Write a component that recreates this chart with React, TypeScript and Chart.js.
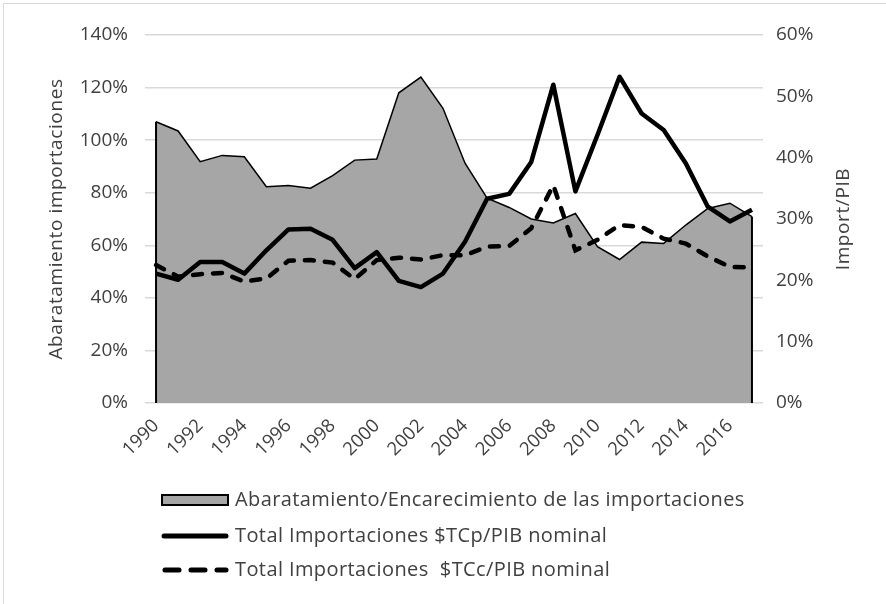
import React, { useEffect, useRef } from 'react';
import { Chart, registerables } from 'chart.js';

Chart.register(...registerables);

const years = ['1990', '1991', '1992', '1993', '1994', '1995', '1996', '1997', '1998', '1999', '2000', '2001', '2002', '2003', '2004', '2005', '2006', '2007', '2008', '2009', '2010', '2011', '2012', '2013', '2014', '2015', '2016', '2017'];
const abaratamiento = [107.0, 103.5, 91.8, 94.2, 93.7, 82.3, 82.7, 81.7, 86.5, 92.4, 92.8, 118.0, 124.0, 112.1, 91.2, 77.9, 74.4, 70.0, 68.5, 72.1, 59.5, 54.6, 61.2, 60.7, 67.7, 74.0, 76.0, 70.9];
const importTCp = [21.1, 20.1, 23.0, 23.0, 21.1, 24.9, 28.3, 28.4, 26.6, 22.0, 24.6, 19.9, 18.9, 21.1, 26.3, 33.3, 34.1, 39.3, 51.9, 34.5, 43.7, 53.2, 47.2, 44.5, 39.1, 32.0, 29.6, 31.5];
const importTCc = [22.5, 20.6, 21.0, 21.2, 19.8, 20.3, 23.2, 23.3, 22.9, 20.2, 23.3, 23.7, 23.4, 24.1, 24.1, 25.5, 25.6, 28.5, 35.5, 24.9, 26.6, 29.0, 28.7, 26.8, 26.0, 23.9, 22.2, 22.1];
const seriesNames = [
  'Abaratamiento/Encarecimiento de las importaciones',
  'Total Importaciones $TCp/PIB nominal',
  'Total Importaciones  $TCc/PIB nominal',
];
const leftTitle = 'Abaratamiento importaciones';
const rightTitle = 'Import/PIB';

const FONT = '"Open Sans"';
const TEXT = '#404040';
const GRAY = '#a6a6a6';

const areaEdges = {
  id: 'areaEdges',
  afterDatasetDraw(chart: any, args: any) {
    if (args.index !== 0) return;
    const meta = chart.getDatasetMeta(0);
    const pts = meta.data;
    if (!pts.length) return;
    const base = chart.scales.y.getPixelForValue(0);
    const ctx = chart.ctx;
    ctx.save();
    ctx.strokeStyle = '#000';
    ctx.lineWidth = 2;
    [pts[0], pts[pts.length - 1]].forEach((p: any) => {
      ctx.beginPath();
      ctx.moveTo(p.x, p.y);
      ctx.lineTo(p.x, base);
      ctx.stroke();
    });
    ctx.restore();
  },
};

const decorations = {
  id: 'decorations',
  afterDraw(chart: any) {
    const ctx = chart.ctx;
    const area = chart.chartArea;
    const midY = (area.top + area.bottom) / 2;
    ctx.save();
    ctx.fillStyle = TEXT;
    ctx.font = `19px ${FONT}`;
    try { (ctx as any).letterSpacing = '0.6px'; } catch (e) {}
    ctx.textAlign = 'center';
    ctx.textBaseline = 'middle';
    // left title
    ctx.save();
    ctx.translate(57, midY);
    ctx.rotate(-Math.PI / 2);
    ctx.fillText(leftTitle, 0, 0);
    ctx.restore();
    // right title
    ctx.save();
    ctx.translate(844, midY);
    ctx.rotate(-Math.PI / 2);
    ctx.fillText(rightTitle, 0, 0);
    ctx.restore();

    // legend
    const x0 = 162;
    const x1 = 228;
    const rows = [500, 536, 570];
    ctx.font = `20px ${FONT}`;
    try { (ctx as any).letterSpacing = '0.4px'; } catch (e) {}
    ctx.textAlign = 'left';
    ctx.textBaseline = 'middle';
    // area marker
    ctx.fillStyle = GRAY;
    ctx.fillRect(x0, rows[0] - 5, x1 - x0, 10);
    ctx.strokeStyle = '#000';
    ctx.lineWidth = 2;
    ctx.strokeRect(x0, rows[0] - 5, x1 - x0, 10);
    // solid marker
    ctx.lineWidth = 5;
    ctx.lineCap = 'round';
    ctx.beginPath();
    ctx.moveTo(x0 + 2, rows[1]);
    ctx.lineTo(x1 - 2, rows[1]);
    ctx.stroke();
    // dashed marker
    ctx.setLineDash([14, 12]);
    ctx.beginPath();
    ctx.moveTo(x0 + 3, rows[2]);
    ctx.lineTo(x1 - 2, rows[2]);
    ctx.stroke();
    ctx.setLineDash([]);
    ctx.fillStyle = TEXT;
    seriesNames.forEach((n, i) => {
      ctx.fillText(n, 235, rows[i]);
    });
    ctx.restore();
  },
};

export default function App() {
  const ref = useRef<HTMLCanvasElement | null>(null);
  useEffect(() => {
    document.body.style.margin = '0';
    const canvas = ref.current;
    if (!canvas) return;
    const chart = new Chart(canvas, {
      type: 'line',
      data: {
        labels: years,
        datasets: [
          {
            label: seriesNames[0],
            data: abaratamiento,
            yAxisID: 'y',
            borderColor: '#000',
            borderWidth: 1.5,
            backgroundColor: GRAY,
            fill: 'origin',
            pointRadius: 0,
            tension: 0,
            order: 3,
          },
          {
            label: seriesNames[1],
            data: importTCp,
            yAxisID: 'y1',
            borderColor: '#000',
            borderWidth: 4.5,
            backgroundColor: '#000',
            fill: false,
            pointRadius: 0,
            tension: 0,
            borderJoinStyle: 'round',
            order: 2,
          },
          {
            label: seriesNames[2],
            data: importTCc,
            yAxisID: 'y1',
            borderColor: '#000',
            borderWidth: 4.5,
            backgroundColor: '#000',
            borderDash: [9, 11],
            borderCapStyle: 'round',
            fill: false,
            pointRadius: 0,
            tension: 0,
            order: 1,
          },
        ],
      },
      options: {
        responsive: false,
        animation: false,
        layout: { padding: { left: 0, right: 0, top: 35, bottom: 0 } },
        plugins: {
          legend: { display: false },
          tooltip: { enabled: false },
          title: { display: false },
        },
        scales: {
          x: {
            type: 'category',
            offset: true,
            grid: { display: false, drawTicks: false },
            border: { display: false },
            ticks: {
              autoSkip: false,
              minRotation: 45,
              maxRotation: 45,
              padding: 12,
              color: TEXT,
              font: { family: FONT, size: 18.5 },
              callback: (_v: any, i: number) => (i % 2 === 0 ? years[i] : ''),
            },
            afterFit: (s: any) => {
              s.height = 201;
            },
          },
          y: {
            position: 'left',
            min: 0,
            max: 140,
            grid: { color: '#d9d9d9', lineWidth: 1.5, drawTicks: false },
            border: { display: false },
            ticks: {
              stepSize: 20,
              padding: 17,
              color: TEXT,
              font: { family: FONT, size: 19 },
              callback: (v: any) => `${v}%`,
            },
            afterFit: (s: any) => {
              s.width = 145;
            },
          },
          y1: {
            position: 'right',
            min: 0,
            max: 60,
            grid: { display: false, drawTicks: false },
            border: { display: false },
            ticks: {
              stepSize: 10,
              padding: 13,
              color: TEXT,
              font: { family: FONT, size: 19 },
              callback: (v: any) => `${v}%`,
            },
            afterFit: (s: any) => {
              s.width = 123;
            },
          },
        },
      },
      plugins: [areaEdges, decorations],
    } as any);
    return () => chart.destroy();
  }, []);

  return (
    <div style={{ position: 'fixed', left: 0, top: 0, width: 886, height: 604, background: '#fff' }}>
      <div
        style={{
          position: 'absolute',
          left: 3,
          top: 3,
          right: -2,
          bottom: -2,
          borderLeft: '1px solid #d9d9d9',
          borderTop: '1px solid #d9d9d9',
        }}
      />
      <canvas ref={ref} width={886} height={604} style={{ position: 'absolute', left: 0, top: 0 }} />
    </div>
  );
}
